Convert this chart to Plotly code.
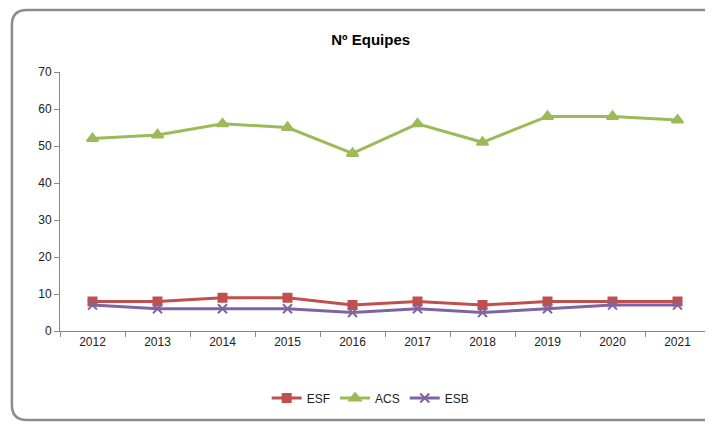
import plotly.graph_objects as go

anos = ['2012', '2013', '2014', '2015', '2016', '2017', '2018', '2019', '2020', '2021']
esf = [8, 8, 9, 9, 7, 8, 7, 8, 8, 8]
acs = [52, 53, 56, 55, 48, 56, 51, 58, 58, 57]
esb = [7, 6, 6, 6, 5, 6, 5, 6, 7, 7]

series = [
    ('ESF', esf, '#C0504D', 'square', 8),
    ('ACS', acs, '#9BBB59', 'triangle-up', 10),
    ('ESB', esb, '#8064A2', 'x-thin', 9),
]

fig = go.Figure()
for nome, vals, cor, simbolo, tam in series:
    fig.add_trace(go.Scatter(
        x=anos, y=vals, name=nome, mode='lines+markers',
        line=dict(color=cor, width=3),
        marker=dict(symbol=simbolo, size=tam, color=cor,
                    line=dict(color=cor, width=2)),
    ))

# rounded frame around the whole chart (paper coords)
x0, x1 = -0.074, 1.02
y0, y1 = -0.344, 1.239
rx, ry = 0.023, 0.058
frame = (f'M {x0+rx},{y0} L {x1-rx},{y0} Q {x1},{y0} {x1},{y0+ry} '
         f'L {x1},{y1-ry} Q {x1},{y1} {x1-rx},{y1} '
         f'L {x0+rx},{y1} Q {x0},{y1} {x0},{y1-ry} '
         f'L {x0},{y0+ry} Q {x0},{y0} {x0+rx},{y0} Z')

# page body has an 8px margin, so the figure is 8px smaller than the window
fig.update_layout(
    width=705, height=418,
    margin=dict(l=52, r=3, t=64, b=95, autoexpand=False),
    paper_bgcolor='white', plot_bgcolor='white',
    font=dict(family='Liberation Sans', size=12, color='#222222'),
    title=dict(text='<b>Nº Equipes</b>', x=0.478, xref='paper', xanchor='center',
               y=0.923, yanchor='middle', font=dict(size=15, color='black')),
    showlegend=True,
    legend=dict(orientation='h', x=0.478, xanchor='center', y=-0.259, yanchor='middle',
                font=dict(size=12), itemwidth=30, tracegroupgap=0),
    xaxis=dict(type='category', range=[-0.5, 9.5], showgrid=False,
               showline=True, linecolor='#888888', linewidth=1,
               ticks='outside', tickson='boundaries', ticklen=5, tickcolor='#888888'),
    yaxis=dict(range=[0, 70], dtick=10, showgrid=False, zeroline=False,
               showline=True, linecolor='#888888', linewidth=1,
               ticks='outside', ticklen=5, tickcolor='#888888'),
    shapes=[dict(type='path', xref='paper', yref='paper', path=frame,
                 line=dict(color='#8c8c8c', width=2.5), layer='below')],
)

fig.write_html("out.html")
